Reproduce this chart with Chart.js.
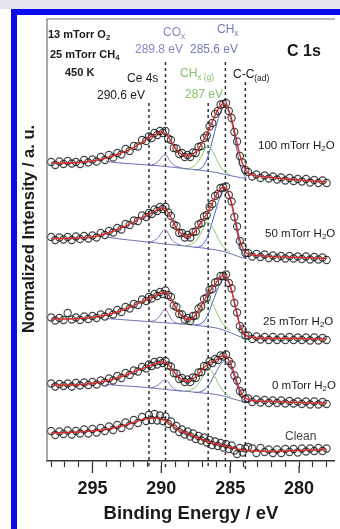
<!DOCTYPE html>
<html>
<head>
<meta charset="utf-8">
<script src="https://cdn.jsdelivr.net/npm/chart.js@4.4.1/dist/chart.umd.min.js"></script>
<style>
html, body { margin: 0; padding: 0; background: #fff; }
#wrap { position: relative; width: 340px; height: 529px; overflow: hidden; font-family: "Liberation Sans", Arial, sans-serif; }
#chart { position: absolute; left: 0; top: 0; }
.band { position: absolute; left: 0; top: 0; width: 340px; height: 9px; background: #e6e6ee; }
.blueTop { position: absolute; left: 11px; top: 9px; width: 329px; height: 6px; background: #0b0bf0; }
.blueLeft { position: absolute; left: 11px; top: 9px; width: 6px; height: 520px; background: #0b0bf0; }
.t { position: absolute; white-space: nowrap; line-height: 1; color: #1a1a1a; font-size: 12px; }
.t sub { font-size: 70%; vertical-align: -0.3em; line-height: 0; }
.b { font-weight: bold; }
.pu { color: #8585c2; }
.bl { color: #7479b8; }
.gr { color: #84c266; }
.sp { font-size: 11.5px; }
#ytitle { position: absolute; left: 28px; top: 229px; font-size: 16.5px; font-weight: bold; line-height: 1; color: #1a1a1a;
  white-space: nowrap; transform: translate(-50%, -50%) rotate(-90deg); }
</style>
</head>
<body>
<div id="wrap">
  <canvas id="chart" width="340" height="529"></canvas>
  <div class="band"></div>
  <div class="blueTop"></div>
  <div class="blueLeft"></div>
  <div id="ytitle">Normalized Intensity / a. u.</div>

  <div class="t b" style="left:48px;top:29px;font-size:11px">13 mTorr O<sub>2</sub></div>
  <div class="t b" style="left:50px;top:49px;font-size:11px">25 mTorr CH<sub>4</sub></div>
  <div class="t b" style="left:65px;top:67px;font-size:11px">450 K</div>
  <div class="t pu" style="left:163px;top:26px">CO<sub>x</sub></div>
  <div class="t pu" style="left:135px;top:43px">289.8 eV</div>
  <div class="t bl" style="left:217px;top:23px">CH<sub>x</sub></div>
  <div class="t bl" style="left:190px;top:43px">285.6 eV</div>
  <div class="t b" style="left:287px;top:43px;font-size:16px">C 1s</div>
  <div class="t" style="left:127px;top:72px">Ce 4s</div>
  <div class="t" style="left:97px;top:89px">290.6 eV</div>
  <div class="t gr" style="left:180px;top:67px">CH<sub>x (g)</sub></div>
  <div class="t gr" style="left:185px;top:88px">287 eV</div>
  <div class="t" style="left:233px;top:68px">C-C<sub>(ad)</sub></div>

  <div class="t sp" style="left:258px;top:140px">100 mTorr H<sub>2</sub>O</div>
  <div class="t sp" style="left:265px;top:228px">50 mTorr H<sub>2</sub>O</div>
  <div class="t sp" style="left:263px;top:316px">25 mTorr H<sub>2</sub>O</div>
  <div class="t sp" style="left:272px;top:380px">0 mTorr H<sub>2</sub>O</div>
  <div class="t" style="left:285px;top:430px;color:#444">Clean</div>
</div>
<script>
// binding energies of the measured points (eV)
const energy = [298.0, 297.7, 297.4, 297.1, 296.8, 296.5, 296.2, 295.9, 295.6, 295.3, 295.0, 294.7, 294.4, 294.1, 293.8, 293.5, 293.2, 292.9, 292.6, 292.3, 292.0, 291.7, 291.4, 291.1,
  290.9, 290.7, 290.5, 290.3, 290.1, 289.9, 289.7, 289.5, 289.3, 289.1, 288.9, 288.7, 288.5, 288.3, 288.1, 287.9, 287.7, 287.5, 287.3, 287.1, 286.9, 286.7, 286.5, 286.3, 286.1, 285.9, 285.7, 285.5, 285.3, 285.1, 284.9, 284.7, 284.5, 284.3, 284.1, 283.9, 283.7,
  283.4, 283.1, 282.8, 282.5, 282.2, 281.9, 281.6, 281.3, 281.0, 280.7, 280.4, 280.1, 279.8, 279.5, 279.2, 278.9, 278.6, 278.3, 278.0];

// measured intensities, stacked (a.u.)
const obs100 = [299, 296, 299.5, 297, 300, 297.5, 299, 297, 301, 298.5, 301.5, 299.5, 304, 301, 306, 303.5, 308, 306.5, 312, 310, 315, 314.5, 321, 320,
  324.5, 323, 328, 326, 330, 328, 330, 322.5, 321, 313, 312.5, 307, 308, 304, 306, 304, 308.5, 308, 314, 315, 323, 325.5, 334.5, 338, 347, 350, 356.5, 357, 358, 350, 343, 329, 319.5, 305, 298.5, 291, 289,
  284.5, 286.5, 283, 285.5, 282.5, 284.5, 281.5, 283.5, 280.5, 283, 280, 282, 279.5, 282, 278.5, 281, 278, 280.5, 278];
const obs50 = [224, 221, 223.5, 221.5, 224, 221, 224.5, 222, 225, 222.5, 225.5, 223.5, 228, 226, 230, 228.5, 233, 231.5, 237, 236, 240.5, 240, 245.5, 244,
  248, 247, 251.5, 250, 254, 252, 254, 248.5, 245, 236.5, 235, 228, 228, 223.5, 226, 223.5, 229, 229.5, 236.5, 238, 244.5, 246, 254, 257, 265, 267, 273, 273.5, 274.5, 266, 259.5, 244, 234.5, 220, 214.5, 208, 208,
  204.5, 207, 204, 206.5, 203, 205.5, 203, 205, 202.5, 205, 202.5, 204.5, 202, 204.5, 201.5, 204, 201.5, 203.5, 201];
const obs25 = [143.5, 140.5, 143, 141, 148, 141.5, 143.5, 141, 144.5, 142, 145, 143, 146.5, 144.5, 148.5, 146.5, 151, 149, 154, 152.5, 157, 156, 161.5, 160,
  164, 162.5, 167, 165, 169, 167, 170.5, 166, 164, 155.5, 154, 147, 146.5, 141.5, 143, 140, 145, 145.5, 152.5, 154.5, 162, 163.5, 171, 172, 178.5, 179.5, 185, 185, 186.5, 178, 172.5, 158, 148.5, 135, 131.5, 125.5, 125.5,
  122, 124.5, 121.5, 124, 121, 124, 121, 123.5, 121, 124, 121, 123.5, 121, 123.5, 120.5, 123.5, 120.5, 123, 121];
const obs0 = [77.5, 74.5, 77, 75, 77.5, 74.5, 78, 75.5, 78.5, 76, 79, 76.5, 80.5, 78.5, 82.5, 80.5, 85, 83, 88, 86, 90.5, 89.5, 94, 92.5,
  96.5, 95, 99, 96.5, 100, 98, 100, 95.5, 94.5, 88, 87.5, 82, 83, 79, 81.5, 79, 83.5, 83, 88.5, 89, 95, 94.5, 99.5, 98, 102, 101, 105.5, 104.5, 106.5, 100, 96.5, 85.5, 80.5, 70, 67.5, 62, 62.5,
  59, 61.5, 58.5, 61, 58, 60.5, 58, 60.5, 57.5, 60, 57.5, 59.5, 57, 59.5, 56.5, 59.5, 56.5, 59, 57];
const obsClean = [30, 26, 29.5, 27, 30.5, 26.5, 30, 27.5, 31.5, 27.5, 32, 28.5, 33, 30, 34.5, 31, 36, 33, 38.5, 35.5, 41, 38, 44, 40,
  46, 41, 47, 40.5, 45.5, 40, 44.5, 37, 39.5, 32.5, 35, 29, 31.5, 26.5, 29.5, 24.5, 27.5, 22, 25, 20.5, 23.5, 18.5, 21, 16, 19.5, 15, 18, 13.5, 17, 12, 15.5, 10.5, 7, 13, 8.5, 12.5, 14,
  12.5, 8, 13, 9, 11.5, 8, 11.5, 8, 12, 9, 12, 8.5, 12.5, 9.5, 12.5, 10, 13, 10, 12.5];

// fitted envelopes
const fitEnergy = [298, 297, 296, 295, 294, 293, 292, 291.5, 291, 290.5, 290, 289.7, 289.4, 289.1, 288.8, 288.5, 288.2, 287.9, 287.6, 287.3, 287, 286.7, 286.4, 286.1, 285.8, 285.5, 285.2, 284.9, 284.6, 284.3, 284, 283.7, 283.4, 283, 282, 281, 280, 279, 278];
const fit100 = [298, 298, 298.5, 300, 303, 307.5, 313.5, 318, 322.5, 326, 329, 327.5, 322, 315, 309.5, 306.5, 305, 305.5, 308, 312.5, 319, 327, 336, 345.5, 353.5, 357.5, 354, 342, 324, 306, 294, 288, 286, 285, 283.5, 282, 281, 280, 279];
const fit50 = [222.5, 222.5, 223, 224, 227.5, 232.5, 239, 243, 246, 249.5, 253, 252, 246, 238, 231, 226.5, 224.5, 225, 229, 235, 241, 247, 255, 263.5, 270.5, 274, 270, 258, 239, 221, 210.5, 207, 206, 205.5, 204.5, 204, 203.5, 203, 202.5];
const fit25 = [142, 142, 142.5, 143.5, 146, 150, 155.5, 159, 162, 165, 168, 169, 164.5, 157, 150, 145, 142, 141.5, 144.5, 151, 158, 165, 171.5, 177, 182.5, 185.5, 182, 171, 153, 136, 127.5, 124.5, 123.5, 123, 122.5, 122.5, 122.5, 122, 122];
const fit0 = [76, 76, 76.5, 77.5, 80, 84, 89, 92, 94.5, 97, 99, 98.5, 95, 89.5, 84.5, 81.5, 80, 80.5, 83, 87, 92, 96, 98.5, 100.5, 103, 105.5, 103, 95, 83, 71, 64, 61.5, 60.5, 60, 59.5, 59, 58.5, 58, 58];
const fitClean = [28, 28.5, 29, 30, 31.5, 34.5, 38.5, 41, 42.5, 43, 42, 40.5, 38, 34.5, 31.5, 29.5, 28, 26.5, 24.5, 23, 21.5, 20, 18.5, 17.5, 16.5, 15.5, 14.5, 13.5, 12.5, 11.5, 11, 10.5, 10, 10, 9.5, 10, 10.5, 11, 11.5];

// Shirley background
const bgEnergy = [294, 293, 292, 291, 290, 289, 288, 287, 286, 285.5, 285, 284.5, 284, 283.8];
const bg100 = [299.5, 298, 297, 296, 295, 293.5, 292, 290.5, 288.5, 287, 285.5, 284, 283, 283];
const bg50 = [224, 222, 220.5, 219, 217.5, 216, 214.5, 213, 211, 209.5, 207.5, 205, 203, 203];
const bg25 = [142.5, 141.5, 140.5, 139.5, 138.5, 137.5, 136.5, 135, 133, 131, 128.5, 125.5, 123, 122.5];
const bg0 = [76.5, 75.5, 74.5, 73.5, 72, 70.5, 69.5, 68, 66.5, 65, 63, 61, 59.5, 59.5];

// COx component
const coxEnergy = [290.9, 290.5, 290.2, 290.0, 289.8, 289.6, 289.4, 289.2, 288.9, 288.5];
const cox100 = [295.5, 297, 300, 303.5, 306, 305, 300.5, 297, 294.5, 293];
const cox50 = [219, 220.5, 224, 228, 231, 230, 225, 220.5, 217.5, 215.5];
const cox25 = [139.5, 140.5, 143.5, 147.5, 151, 150, 145, 140.5, 138, 137];
const cox0 = [73, 74, 76.5, 79, 81, 80.5, 77, 73.5, 71, 70];

// CHx(g) component
const chgEnergy = [288.3, 287.9, 287.5, 287.2, 286.9, 286.7, 286.5, 286.2, 285.9, 285.6, 285.3, 285.0];
const chg100 = [291.5, 293, 296.5, 302, 310, 315, 314, 308, 299, 292, 288.5, 286];
const chg50 = [215, 216.5, 220, 226, 234, 239, 238, 232, 223, 216, 212, 209];
const chg25 = [137, 138.5, 142, 148, 156, 161.5, 161, 155, 146, 138.5, 134, 130.5];
const chg0 = [70, 71, 74, 79.5, 87, 92, 92, 86.5, 78.5, 71.5, 67, 64];

// CHx component
const chxEnergy = [287.6, 287.2, 286.9, 286.6, 286.3, 286.0, 285.7, 285.4, 285.1, 284.8, 284.5, 284.2, 283.9];
const chx100 = [291, 292, 296, 305, 320, 336, 349, 354, 349, 333, 310, 292, 284];
const chx50 = [213.5, 214.5, 218, 226, 239, 253, 265, 270, 265.5, 250, 228, 211, 204];
const chx25 = [136, 137, 140, 147, 158, 169, 178.5, 182, 178, 164.5, 146, 131, 124];
const chx0 = [68.5, 69, 71, 75, 82, 89.5, 96.5, 100, 97, 88, 75, 64, 60];

// reference lines: Ce 4s, COx, CHx(g), CHx, C-C(ad)
const lineEnergy = [290.9, 289.7, 286.6, 285.35, 283.9];
const lineTop = [358, 399, 358, 399, 379];
const lineBottom = -8;

const tickValues = [278, 279, 280, 281, 282, 283, 284, 285, 286, 287, 288, 289, 290, 291, 292, 293, 294, 295, 296, 297, 298];
const majorTicks = [280, 285, 290, 295];

const pts = (xs, ys) => xs.map((x, i) => ({x: x, y: ys[i]}));

const datasets = [];
[fit100, fit50, fit25, fit0, fitClean].forEach(f => {
  datasets.push({data: pts(fitEnergy, f), showLine: true, borderColor: '#d42a2a', borderWidth: 1.4,
    pointRadius: 0, cubicInterpolationMode: 'monotone', order: 1});
});
[obs100, obs50, obs25, obs0, obsClean].forEach(o => {
  datasets.push({data: pts(energy, o), showLine: false, pointRadius: 3.6, pointBorderWidth: 1.1,
    pointBorderColor: 'rgba(32,32,32,0.85)', pointBackgroundColor: 'rgba(0,0,0,0)', order: 2});
});
const comp = (xs, ys, color) => ({data: pts(xs, ys), showLine: true, borderColor: color, borderWidth: 1,
  pointRadius: 0, cubicInterpolationMode: 'monotone', order: 3});
[bg100, bg50, bg25, bg0].forEach(b => datasets.push(comp(bgEnergy, b, '#6c70b4')));
[cox100, cox50, cox25, cox0].forEach(c => datasets.push(comp(coxEnergy, c, '#7b72b8')));
[chg100, chg50, chg25, chg0].forEach(c => datasets.push(comp(chgEnergy, c, '#86c66e')));
[chx100, chx50, chx25, chx0].forEach(c => datasets.push(comp(chxEnergy, c, '#4a66b8')));
lineEnergy.forEach((e, i) => {
  datasets.push({data: [{x: e, y: lineTop[i]}, {x: e, y: lineBottom}], showLine: true, borderColor: '#333',
    borderWidth: 1.5, borderDash: [3, 3], pointRadius: 0, clip: false, order: 4});
});

const frame = {
  id: 'frame',
  afterDraw(chart) {
    const {ctx, chartArea: a, scales: {x}} = chart;
    ctx.save();
    ctx.strokeStyle = '#707070';
    ctx.lineWidth = 1.2;
    ctx.beginPath();
    ctx.moveTo(a.left, a.bottom);
    ctx.lineTo(a.left, a.top);
    ctx.lineTo(a.right, a.top);
    ctx.stroke();
    ctx.strokeStyle = '#333';
    ctx.lineWidth = 1.3;
    majorTicks.forEach(v => {
      const px = x.getPixelForValue(v);
      ctx.beginPath();
      ctx.moveTo(px, a.bottom + 5);
      ctx.lineTo(px, a.bottom + 12);
      ctx.stroke();
    });
    ctx.restore();
  }
};

Chart.defaults.font.family = '"Liberation Sans", Arial, sans-serif';
Chart.defaults.color = '#1a1a1a';

new Chart(document.getElementById('chart'), {
  type: 'scatter',
  data: {datasets: datasets},
  options: {
    responsive: false,
    animation: false,
    devicePixelRatio: 1,
    layout: {padding: {left: 14, top: 19, right: 0, bottom: 0}},
    plugins: {legend: {display: false}, tooltip: {enabled: false}},
    scales: {
      x: {
        type: 'linear',
        reverse: true,
        min: 277.4,
        max: 298.3,
        afterBuildTicks: s => { s.ticks = tickValues.map(v => ({value: v})); },
        afterFit: s => { s.height = 68; },
        grid: {display: true, drawOnChartArea: false, drawTicks: true, tickLength: 6, tickColor: '#333', tickWidth: 1.2},
        border: {display: true, color: '#333', width: 1.5},
        ticks: {
          autoSkip: false, maxRotation: 0, padding: 11, color: '#1a1a1a',
          font: {size: 18, weight: 'bold'},
          callback: v => (v % 5 === 0 ? String(v) : '')
        },
        title: {display: true, text: 'Binding Energy / eV', color: '#1a1a1a',
          font: {size: 18.5, weight: 'bold'}, padding: {top: 4, bottom: 4}}
      },
      y: {
        min: 0,
        max: 442,
        afterFit: s => { s.width = 33; },
        grid: {display: false},
        border: {display: false},
        ticks: {display: false},
        title: {display: false}
      }
    }
  },
  plugins: [frame]
});
</script>
</body>
</html>
